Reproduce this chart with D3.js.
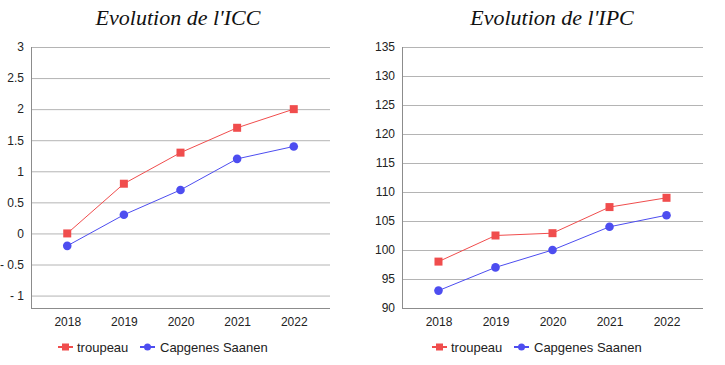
<!DOCTYPE html>
<html>
<head>
<meta charset="utf-8">
<script src="https://cdn.jsdelivr.net/npm/d3@7"></script>
<style>
  body { margin: 0; background: #fff; }
  svg { display: block; }
  .title { font-family: "Liberation Serif", "DejaVu Serif", serif; font-style: italic; font-size: 22px; fill: #111; }
  .tick text { font-family: "Liberation Sans", Arial, sans-serif; font-size: 12px; fill: #222; }
  .legend text { font-family: "Liberation Sans", Arial, sans-serif; font-size: 13px; fill: #222; }
</style>
</head>
<body>
<svg id="chart" width="725" height="365"></svg>
<script>
// data
const years = ["2018", "2019", "2020", "2021", "2022"];
const seriesNames = ["troupeau", "Capgenes Saanen"];
const iccTroupeau = [0, 0.8, 1.3, 1.7, 2.0];
const iccCapgenes = [-0.2, 0.3, 0.7, 1.2, 1.4];
const ipcTroupeau = [98, 102.5, 102.9, 107.4, 109];
const ipcCapgenes = [93, 97, 100, 104, 106];
const iccTicks = [-1, -0.5, 0, 0.5, 1, 1.5, 2, 2.5, 3];
const ipcTicks = [90, 95, 100, 105, 110, 115, 120, 125, 130, 135];

const RED = "#f04d4d", BLUE = "#4d4df0";

const svg = d3.select("#chart");

function fmt(v)
{
    // negative values are written "- 0.5" in the source
    return v < 0 ? "- " + Math.abs(v) : String(v);
}

function drawPanel( cfg )
{
    const g = svg.append("g");

    const x = d3.scalePoint()
        .domain( years )
        .range([ cfg.left, cfg.right ])
        .padding( 0.64 );

    const y = d3.scaleLinear()
        .domain( cfg.domain )
        .range([ 308, 47 ]);

    // title
    g.append("text")
        .attr("class", "title")
        .attr("x", cfg.titleX)
        .attr("y", 25)
        .attr("text-anchor", "middle")
        .text( cfg.title );

    // gridlines + y labels
    const yAxis = g.append("g")
        .attr("transform", "translate(" + cfg.left + ",0)")
        .call( d3.axisLeft(y).tickValues( cfg.ticks ).tickSize( -(cfg.right - cfg.left) ).tickPadding(7).tickFormat( fmt ) );
    yAxis.select(".domain").remove();
    yAxis.selectAll(".tick line").attr("stroke", "#b4b4b4");

    // x labels
    const xAxis = g.append("g")
        .attr("transform", "translate(0,308)")
        .call( d3.axisBottom(x).tickSize(0).tickPadding(9) );
    xAxis.select(".domain").remove();

    // axis lines
    g.append("line")
        .attr("x1", cfg.left).attr("x2", cfg.right)
        .attr("y1", y(cfg.domain[0]) + 0.5).attr("y2", y(cfg.domain[0]) + 0.5)
        .attr("stroke", "#8c8c8c");
    g.append("line")
        .attr("x1", cfg.left + 0.5).attr("x2", cfg.left + 0.5)
        .attr("y1", y(cfg.domain[1])).attr("y2", y(cfg.domain[0]))
        .attr("stroke", "#8c8c8c");

    const line = d3.line()
        .x( (d, i) => x(years[i]) )
        .y( d => y(d) );

    // troupeau series (squares)
    g.append("path")
        .attr("d", line( cfg.a ))
        .attr("fill", "none")
        .attr("stroke", RED)
        .attr("stroke-width", 1);
    g.selectAll(".sq")
        .data( cfg.a )
        .enter()
            .append("rect")
            .attr("x", (d, i) => x(years[i]) - 4)
            .attr("y", d => y(d) - 4)
            .attr("width", 8)
            .attr("height", 8)
            .attr("fill", RED);

    // capgenes series (circles)
    g.append("path")
        .attr("d", line( cfg.b ))
        .attr("fill", "none")
        .attr("stroke", BLUE)
        .attr("stroke-width", 1);
    g.selectAll(".dot")
        .data( cfg.b )
        .enter()
            .append("circle")
            .attr("cx", (d, i) => x(years[i]))
            .attr("cy", d => y(d))
            .attr("r", 4.3)
            .attr("fill", BLUE);

    // legend
    const lg = g.append("g").attr("class", "legend")
        .attr("transform", "translate(" + cfg.legendX + ",347)");

    lg.append("line").attr("x1", 0).attr("x2", 15).attr("stroke", RED).attr("stroke-width", 2);
    lg.append("rect").attr("x", 4).attr("y", -3.5).attr("width", 7).attr("height", 7).attr("fill", RED);
    lg.append("text").attr("x", 19).attr("dy", "0.35em").text( seriesNames[0] );

    lg.append("line").attr("x1", 82).attr("x2", 97).attr("stroke", BLUE).attr("stroke-width", 2);
    lg.append("circle").attr("cx", 89.5).attr("r", 3.5).attr("fill", BLUE);
    lg.append("text").attr("x", 102).attr("dy", "0.35em").text( seriesNames[1] );
}

drawPanel({
    title: "Evolution de l'ICC",
    titleX: 178,
    left: 31, right: 330,
    domain: [-1.2, 3],
    ticks: iccTicks,
    a: iccTroupeau, b: iccCapgenes,
    legendX: 58
});

drawPanel({
    title: "Evolution de l'IPC",
    titleX: 552,
    left: 402, right: 703,
    domain: [90, 135],
    ticks: ipcTicks,
    a: ipcTroupeau, b: ipcCapgenes,
    legendX: 432
});
</script>
</body>
</html>
